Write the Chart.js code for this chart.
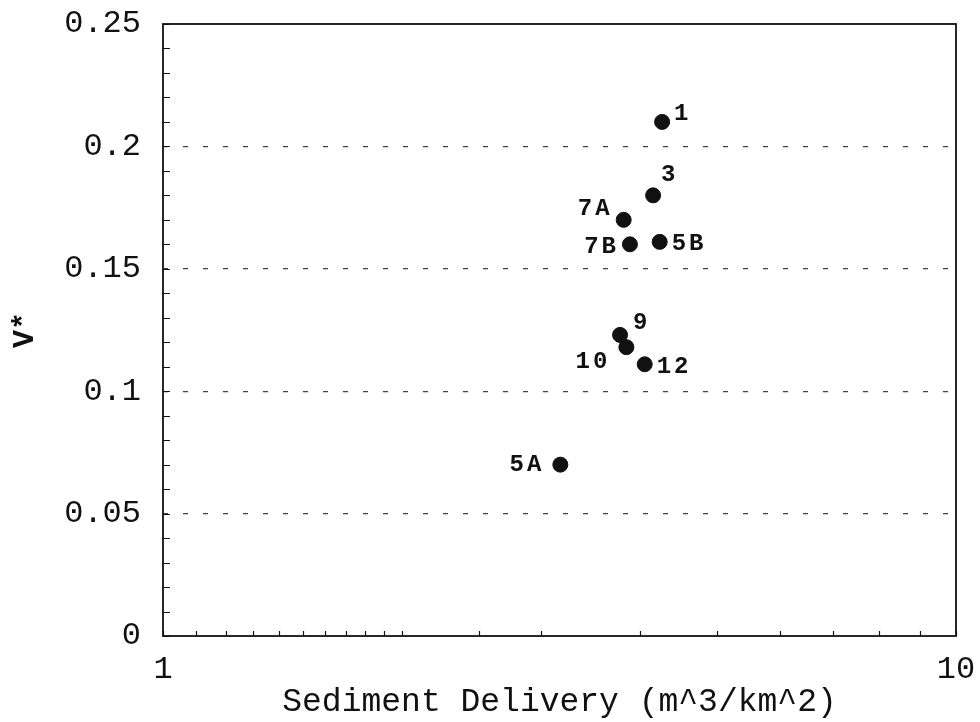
<!DOCTYPE html>
<html>
<head>
<meta charset="utf-8">
<script src="https://cdn.jsdelivr.net/npm/chart.js@4.4.1/dist/chart.umd.min.js"></script>
<style>
  html, body { margin: 0; padding: 0; background: #fff; }
  #wrap { width: 980px; height: 722px; }
</style>
</head>
<body>
<div id="wrap"><canvas id="chart"></canvas></div>
<script>
const siteNames = ['1', '3', '7A', '7B', '5B', '9', '10', '12', '5A'];
const sedimentDelivery = [4.26, 4.15, 3.81, 3.88, 4.23, 3.77, 3.84, 4.05, 3.17];
const vStar = [0.210, 0.180, 0.170, 0.160, 0.161, 0.123, 0.118, 0.111, 0.070];
const xTickLabels = ['1', '10'];
const yTickLabels = ['0', '0.05', '0.1', '0.15', '0.2', '0.25'];

const MONO = "'Liberation Mono', 'DejaVu Sans Mono', monospace";
const INK = '#111';

// where each site label sits relative to its dot: [dx, dy, align]
const labelPlace = {
    '1': [12, -8, 'left'], '3': [8, -20, 'left'], '7A': [-11, -11, 'right'],
    '7B': [-11, 3, 'right'], '5B': [12, 2, 'left'], '9': [13, -12, 'left'],
    '10': [-16, 15, 'right'], '12': [12, 3, 'left'], '5A': [-16, 0, 'right']
};

const isMajorY = v => Math.round(v * 100) % 5 === 0;

const framePlugin = {
    id: 'frame',
    afterDraw(chart) {
        const { ctx, chartArea: a, scales } = chart;
        ctx.save();
        ctx.strokeStyle = INK;
        // inward ticks
        ctx.lineWidth = 1.2;
        ctx.beginPath();
        scales.y.ticks.forEach(t => {
            const y = Math.round(scales.y.getPixelForValue(t.value)) + 0.5;
            ctx.moveTo(a.left, y); ctx.lineTo(a.left + 7, y);
        });
        scales.x.ticks.forEach(t => {
            const x = Math.round(scales.x.getPixelForValue(t.value)) + 0.5;
            ctx.moveTo(x, a.bottom); ctx.lineTo(x, a.bottom - 5);
        });
        ctx.stroke();
        ctx.lineWidth = 1.8;
        ctx.strokeRect(a.left, a.top, a.right - a.left, a.bottom - a.top);
        ctx.restore();
    }
};

const siteLabelPlugin = {
    id: 'siteLabels',
    afterDatasetsDraw(chart) {
        const { ctx } = chart;
        const meta = chart.getDatasetMeta(0);
        ctx.save();
        ctx.fillStyle = INK;
        ctx.font = 'bold 24px ' + MONO;
        ctx.letterSpacing = '3px';
        ctx.textBaseline = 'middle';
        meta.data.forEach((pt, i) => {
            const p = labelPlace[siteNames[i]] || [10, 0, 'left'];
            ctx.textAlign = p[2];
            ctx.fillText(siteNames[i], pt.x + p[0], pt.y + p[1]);
        });
        ctx.restore();
    }
};

new Chart(document.getElementById('chart'), {
    type: 'scatter',
    data: {
        datasets: [{
            label: 'V*',
            data: sedimentDelivery.map((x, i) => ({ x: x, y: vStar[i] })),
            backgroundColor: INK,
            borderColor: INK,
            pointRadius: 7.5,
            pointHoverRadius: 7.5
        }]
    },
    options: {
        responsive: true, maintainAspectRatio: false, animation: false,
        layout: { padding: { top: 24, right: 24, left: 0, bottom: 0 } },
        plugins: { legend: { display: false }, tooltip: { enabled: false } },
        scales: {
            x: {
                type: 'logarithmic', min: 1, max: 10,
                border: { display: false },
                grid: { display: false, drawTicks: false },
                afterFit: s => { s.height = 86; s.paddingLeft = 0; s.paddingRight = 0; },
                ticks: {
                    autoSkip: false, maxRotation: 0, padding: 14,
                    color: INK, font: { family: MONO, size: 32 },
                    callback: v => xTickLabels.includes(String(v)) ? String(v) : ''
                },
                title: {
                    display: true, text: 'Sediment Delivery (m^3/km^2)',
                    color: INK, font: { family: MONO, size: 33 }, padding: { bottom: 0 }
                }
            },
            y: {
                min: 0, max: 0.25,
                afterFit: s => { s.width = 163; s.paddingTop = 0; s.paddingBottom = 0; },
                grid: {
                    drawTicks: false,
                    color: c => (c.tick && isMajorY(c.tick.value) && c.tick.value > 0.001 && c.tick.value < 0.249) ? '#444' : 'rgba(0,0,0,0)',
                    lineWidth: 1.3
                },
                border: { display: false, dash: [5, 15] },
                ticks: {
                    stepSize: 0.01, autoSkip: false, padding: 22,
                    color: INK, font: { family: MONO, size: 32 },
                    callback: v => {
                        const s = String(Math.round(v * 100) / 100);
                        return isMajorY(v) && yTickLabels.includes(s) ? s : '';
                    }
                },
                title: {
                    display: true, text: 'V*',
                    color: INK, font: { family: MONO, size: 30, weight: 'bold' }, padding: { top: 7 }
                }
            }
        }
    },
    plugins: [framePlugin, siteLabelPlugin]
});
</script>
</body>
</html>
